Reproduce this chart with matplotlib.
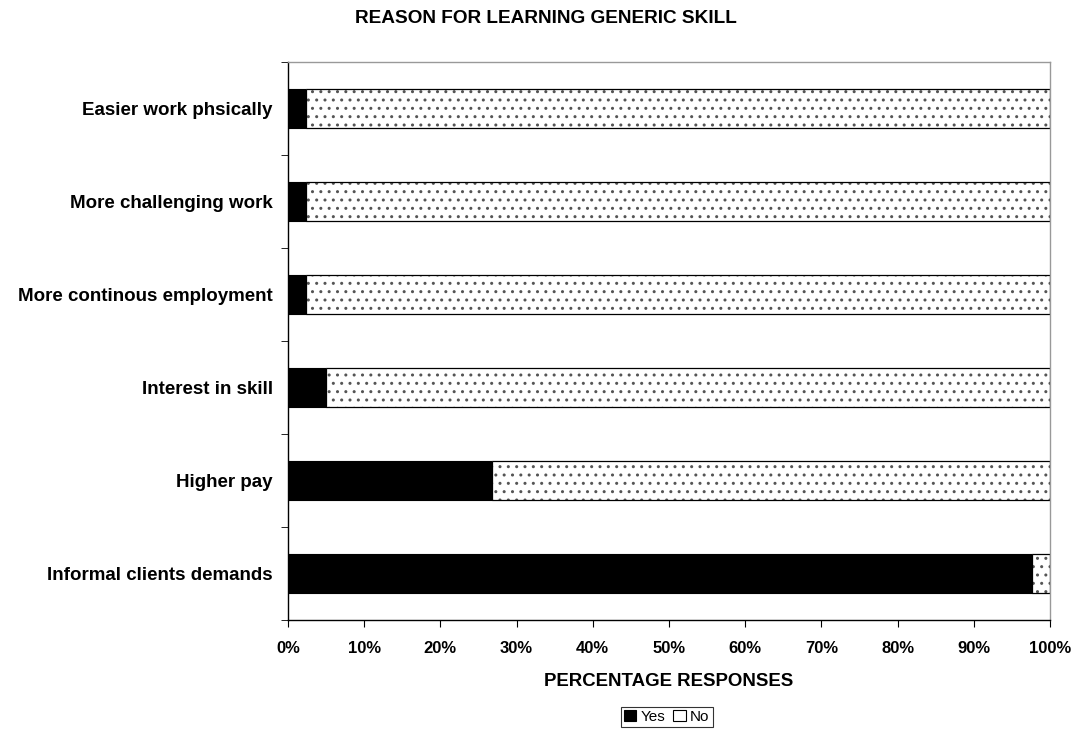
import matplotlib
matplotlib.use('Agg')
import matplotlib.pyplot as plt
import numpy as np

plt.rcParams['font.family'] = ['Liberation Sans', 'DejaVu Sans']
plt.rcParams['hatch.linewidth'] = 1.0

categories = ['Informal clients demands', 'Higher pay', 'Interest in skill',
              'More continous employment', 'More challenging work', 'Easier work phsically']
yes = [97.7, 26.8, 5.0, 2.4, 2.4, 2.4]
no = [100 - v for v in yes]

fig = plt.figure(figsize=(10.79, 7.29), dpi=100)
ax = fig.add_axes([0.2669, 0.1495, 0.7062, 0.7655])

y = np.arange(len(categories))
ax.barh(y, yes, height=0.41, color='black', edgecolor='black', linewidth=0.8, label='Yes')
# dotted fill first (grey dots), then black outline on top
ax.barh(y, no, left=yes, height=0.41, color='white', edgecolor='#555555', linewidth=0,
        hatch='..')
ax.barh(y, no, left=yes, height=0.41, color='none', edgecolor='black', linewidth=0.9)

ax.set_xlim(0, 100)
ax.set_ylim(-0.5, len(categories) - 0.5)
ax.set_xticks(np.arange(0, 101, 10))
ax.set_xticklabels([f'{v}%' for v in range(0, 101, 10)], fontsize=12, fontweight='bold')
ax.set_yticks(y)
ax.set_yticklabels(categories, fontsize=13.5, fontweight='bold')
ax.tick_params(axis='y', length=0, pad=11)
ax.set_yticks(np.arange(-0.5, len(categories), 1), minor=True)
ax.tick_params(axis='y', which='minor', length=5, direction='out')
ax.tick_params(axis='x', length=5, direction='out', pad=10)

for s in ['top', 'right']:
    ax.spines[s].set_color('#999999')
    ax.spines[s].set_linewidth(1.0)
for s in ['left', 'bottom']:
    ax.spines[s].set_color('black')
    ax.spines[s].set_linewidth(1.0)

ax.set_xlabel('PERCENTAGE RESPONSES', fontsize=13.4, fontweight='bold', labelpad=12)
fig.text(0.506, 0.974, 'REASON FOR LEARNING GENERIC SKILL', fontsize=13.7,
         fontweight='bold', ha='center', va='center')

yes_h = plt.Rectangle((0, 0), 1, 1, facecolor='black', edgecolor='black', linewidth=0.8)
no_h = plt.Rectangle((0, 0), 1, 1, facecolor='white', edgecolor='black', linewidth=0.8)
leg = fig.legend([yes_h, no_h], ['Yes', 'No'], loc='lower center',
                 bbox_to_anchor=(0.618, 0.003), ncol=2, fontsize=11,
                 frameon=True, fancybox=False, edgecolor='black', handlelength=0.8,
                 handleheight=0.8, handletextpad=0.3, columnspacing=0.5, borderpad=0.2,
                 borderaxespad=0.0)
leg.get_frame().set_linewidth(0.8)

fig.savefig('out.png', dpi=100)
